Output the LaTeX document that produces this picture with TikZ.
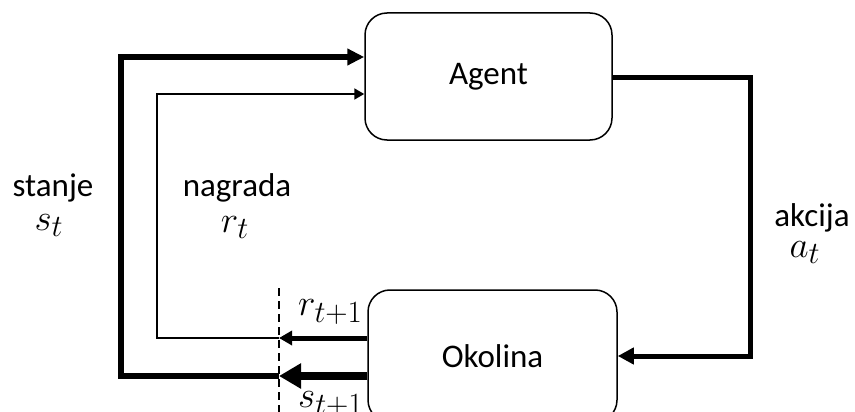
\documentclass[tikz,border=0pt]{standalone}
\usepackage{fontspec}
\setmainfont{Carlito}
\usetikzlibrary{arrows.meta}
\newcommand{\bigmath}[1]{\scalebox{1.49}{\fontsize{24.88}{30}\selectfont$#1$}}
\begin{document}
\begin{tikzpicture}[x=1pt,y=-1pt,
  box/.style={draw,line width=1.5pt,rounded corners=22pt,inner sep=0pt,font=\fontsize{33}{40}\selectfont},
  lbl/.style={inner sep=0pt,font=\fontsize{33}{40}\selectfont},
  mlbl/.style={inner sep=0pt},
  heavy/.style={line width=6pt},
  light/.style={line width=2pt},
  divider/.style={line width=1.5pt,dash pattern=on 8pt off 5pt}]
\useasboundingbox (0,0) rectangle (855,412);
\clip (0,0) rectangle (855,412);

\node[box,minimum width=247pt,minimum height=127pt] (agent) at (488.5,76.5) {Agent};
\node[box,minimum width=249pt,minimum height=132pt] (env) at (492.5,356) {Okolina};

\coordinate (dtop) at (279,288);
\coordinate (dbot) at (279,414);
\coordinate (rin) at (279,338);
\coordinate (sin) at (279,376);
\coordinate (rc) at (157,94);
\coordinate (sc) at (121,57);
\coordinate (ac) at (750,78);

% divider
\draw[divider] (dtop) -- (dbot);

% action
\draw[line width=5pt,-{Triangle[length=16pt,width=16pt]}] (agent.east |- ac) -- (ac) |- (env.east);

% reward
\draw[line width=5pt,-{Triangle[length=13pt,width=14pt]}] (env.west |- rin) -- (rin);
\draw[light,-{Triangle[length=10pt,width=11pt]}] (rin) -| (rc) -- (agent.west |- rc);

% state
\draw[line width=8pt,-{Triangle[length=22pt,width=24pt]}] (env.west |- sin) -- (sin);
\draw[heavy,-{Triangle[length=17pt,width=16pt]}] (sin) -| (sc) -- (agent.west |- sc);

% labels
\node[lbl,anchor=base] (stanje) at (53,196) {stanje};
\node[mlbl,anchor=base] (st) at (49,230) {\bigmath{s_t}};
\node[lbl,anchor=base] (nagrada) at (237,196) {nagrada};
\node[mlbl,anchor=base] (rt) at (235,232) {\bigmath{r_t}};
\node[lbl,anchor=base] (akcija) at (812,226) {akcija};
\node[mlbl,anchor=base] (at) at (805,257) {\bigmath{a_t}};
\node[mlbl,anchor=base west] (rt1) at (298,315) {\bigmath{r_{t+1}}};
\node[mlbl,anchor=base west] (st1) at (298,407) {\bigmath{s_{t+1}}};
\end{tikzpicture}
\end{document}
